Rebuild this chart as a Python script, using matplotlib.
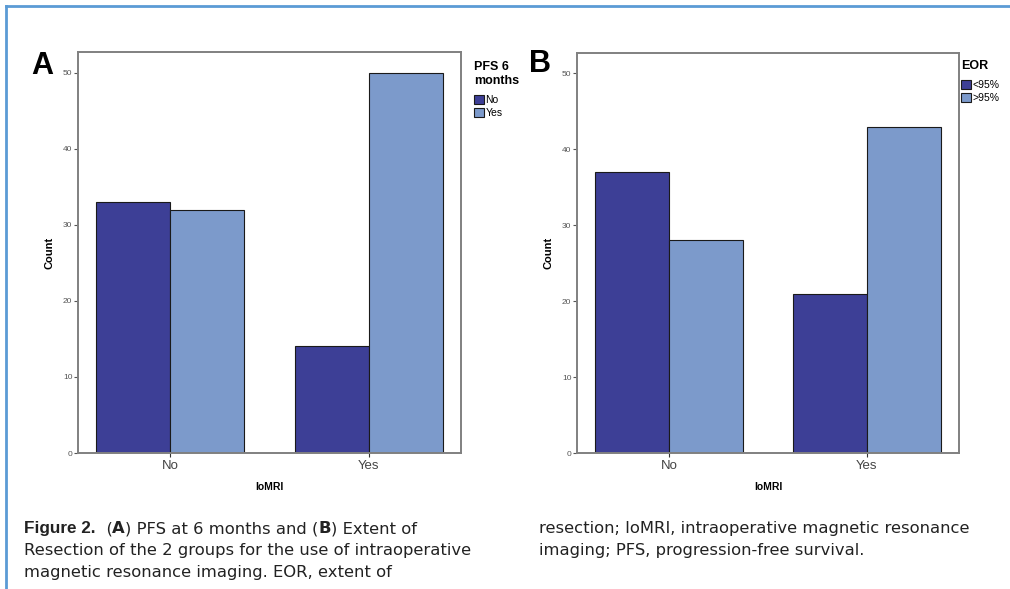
import matplotlib
matplotlib.use("Agg")
import matplotlib.pyplot as plt
import numpy as np

# data
groups = ["No", "Yes"]
pfs_no = [33, 14]
pfs_yes = [32, 50]
eor_lt95 = [37, 21]
eor_gt95 = [28, 43]

DARK = "#3d3f96"
LIGHT = "#7c9acb"
W, H = 1010, 589
plt.rcParams["font.family"] = ["Liberation Sans", "DejaVu Sans"]

fig = plt.figure(figsize=(W / 100, H / 100), dpi=100)


def px_axes(left, top, right, bottom):
	return fig.add_axes([left / W, 1 - bottom / H, (right - left) / W, (bottom - top) / H])


def bar_panel(ax, a, b, labels, title, legend_xy, letter, letter_xy):
	x = np.arange(len(groups))
	bw = 0.372
	ax.bar(x - bw / 2, a, bw, color=DARK, edgecolor="#1a1a1a", linewidth=0.8, label=labels[0])
	ax.bar(x + bw / 2, b, bw, color=LIGHT, edgecolor="#1a1a1a", linewidth=0.8, label=labels[1])
	ax.set_xlim(-0.465, 1.465)
	ax.set_ylim(0, 52.7)
	ax.set_yticks([0, 10, 20, 30, 40, 50])
	ax.set_xticks(x)
	ax.set_xticklabels(groups, fontsize=9.5, color="#444444")
	ax.tick_params(axis="y", labelsize=6, labelcolor="#555555", length=3, width=0.8, color="#555555", pad=1)
	ax.tick_params(axis="x", length=3, width=0.8, color="#333333", pad=2)
	for s in ax.spines.values():
		s.set_color("#808080")
		s.set_linewidth(1.4)
	ax.set_ylabel("Count", fontsize=8, fontweight="bold", labelpad=6)
	ax.set_xlabel("IoMRI", fontsize=7.5, fontweight="bold", labelpad=7)
	leg = ax.legend(loc="upper left", bbox_to_anchor=(legend_xy[0] / W, 1 - legend_xy[1] / H),
		bbox_transform=fig.transFigure, frameon=False, title=title, fontsize=7.5,
		title_fontproperties={"weight": "bold", "size": 9}, alignment="left",
		handlelength=0.95, handleheight=0.95, handletextpad=0.15, labelspacing=0.25,
		borderpad=0, borderaxespad=0)
	leg._legend_box.sep = 6
	for p in leg.get_patches():
		p.set_edgecolor("#1a1a1a")
		p.set_linewidth(0.8)
	fig.text(letter_xy[0] / W, 1 - letter_xy[1] / H, letter, fontsize=22, fontweight="bold",
		ha="left", va="baseline")


axA = px_axes(78, 52, 461, 453)
bar_panel(axA, pfs_no, pfs_yes, ["No", "Yes"], "PFS 6\nmonths", (474, 61), "A", (31, 74))
axB = px_axes(577, 53, 959, 453)
bar_panel(axB, eor_lt95, eor_gt95, ["<95%", ">95%"], "EOR", (961, 60), "B", (529, 72))

# blue frame round the figure
fig.add_artist(plt.Line2D([6 / W, 6 / W], [0, 1 - 6 / H], color="#5b9bd5", linewidth=2))
fig.add_artist(plt.Line2D([6 / W, 1], [1 - 6 / H, 1 - 6 / H], color="#5b9bd5", linewidth=2))

# caption, pieced together so bold parts can sit inline
fig.canvas.draw()
renderer = fig.canvas.get_renderer()


def caption_line(x, y, parts, size=11.8):
	for txt, bold in parts:
		if txt.startswith("Figure"):
			t = fig.text(x / W, 1 - y / H, txt, fontsize=size + 0.5, fontweight="bold",
				family=["Liberation Sans Narrow", "Liberation Sans"], color="#222222",
				va="baseline", ha="left")
		else:
			t = fig.text(x / W, 1 - y / H, txt, fontsize=size, fontweight="bold" if bold else "normal",
				family=["DejaVu Sans"], color="#222222", va="baseline", ha="left")
		x += t.get_window_extent(renderer).width


caption_line(24, 533, [("Figure 2.", True), ("  (", False), ("A", True), (") PFS at 6 months and (", False),
	("B", True), (") Extent of", False)])
caption_line(24, 555, [("Resection of the 2 groups for the use of intraoperative", False)])
caption_line(24, 577, [("magnetic resonance imaging. EOR, extent of", False)])
caption_line(539, 533, [("resection; IoMRI, intraoperative magnetic resonance", False)])
caption_line(539, 555, [("imaging; PFS, progression-free survival.", False)])

fig.savefig("out.png", dpi=100)
